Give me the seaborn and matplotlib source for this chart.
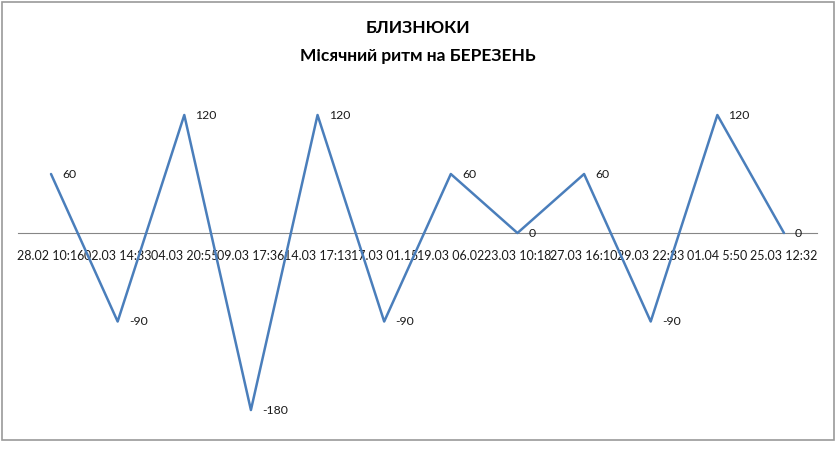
import matplotlib
matplotlib.use("Agg")
import matplotlib.pyplot as plt
import seaborn as sns
import pandas as pd
from matplotlib.patches import Rectangle

dates = ["28.02 10:16", "02.03 14:33", "04.03 20:55", "09.03 17:36",
         "14.03 17:13", "17.03 01.15", "19.03 06.02", "23.03 10:18",
         "27.03 16:10", "29.03 22:33", "01.04 5:50", "25.03 12:32"]
values = [60, -90, 120, -180, 120, -90, 60, 0, 60, -90, 120, 0]

title_main = "БЛИЗНЮКИ"
title_sub = "Місячний ритм на БЕРЕЗЕНЬ"


def main():
    sns.set_theme(style="white")
    plt.rcParams['font.family'] = ['Lato', 'Open Sans', 'DejaVu Sans']

    df = pd.DataFrame({"pos": range(len(dates)), "value": values})

    fig = plt.figure(figsize=(8.35, 4.63), dpi=100)
    W, H = 835, 463
    ax = fig.add_axes([17.7 / W, 33.3 / H, 799.6 / W, 344.2 / H])

    sns.lineplot(data=df, x="pos", y="value", ax=ax, sort=False,
                 color="#4A7EBB", linewidth=1.8)

    for x, y in zip(df["pos"], df["value"]):
        ax.annotate(str(y), (x, y), xytext=(8, 0), textcoords="offset points",
                    ha="left", va="center", fontsize=8.8, color="#1a1a1a")

    ax.set_xlim(-0.5, len(dates) - 0.5)
    ax.set_ylim(-200, 150)
    ax.set_yticks([])
    ax.set_xlabel("")
    ax.set_ylabel("")

    for s in ["top", "right", "left"]:
        ax.spines[s].set_visible(False)
    ax.spines["bottom"].set_position(("data", 0))
    ax.spines["bottom"].set_color("#868686")
    ax.spines["bottom"].set_linewidth(0.8)
    ax.spines["bottom"].set_zorder(0)
    ax.tick_params(axis="x", length=0, pad=12, labelsize=9,
                   labelcolor="#1a1a1a")
    ax.set_xticks(range(len(dates)))
    ax.set_xticklabels(dates, fontsize=9)
    ax.patch.set_alpha(0)

    fig.text(0.5, 1 - 28 / H, title_main, ha="center", va="center",
             fontsize=12.5, fontweight="bold", color="#000000")
    fig.text(0.5, 1 - 56 / H, title_sub, ha="center", va="center",
             fontsize=12.5, fontweight="bold", color="#000000")

    border = Rectangle((1.5 / W, 1 - 440 / H), 832.5 / W, 438.5 / H,
                       transform=fig.transFigure, fill=False,
                       edgecolor="#9a9a9a", linewidth=1.2)
    fig.patches.append(border)

    fig.savefig("out.png", dpi=100)
    plt.close(fig)


if __name__ == "__main__":
    main()
